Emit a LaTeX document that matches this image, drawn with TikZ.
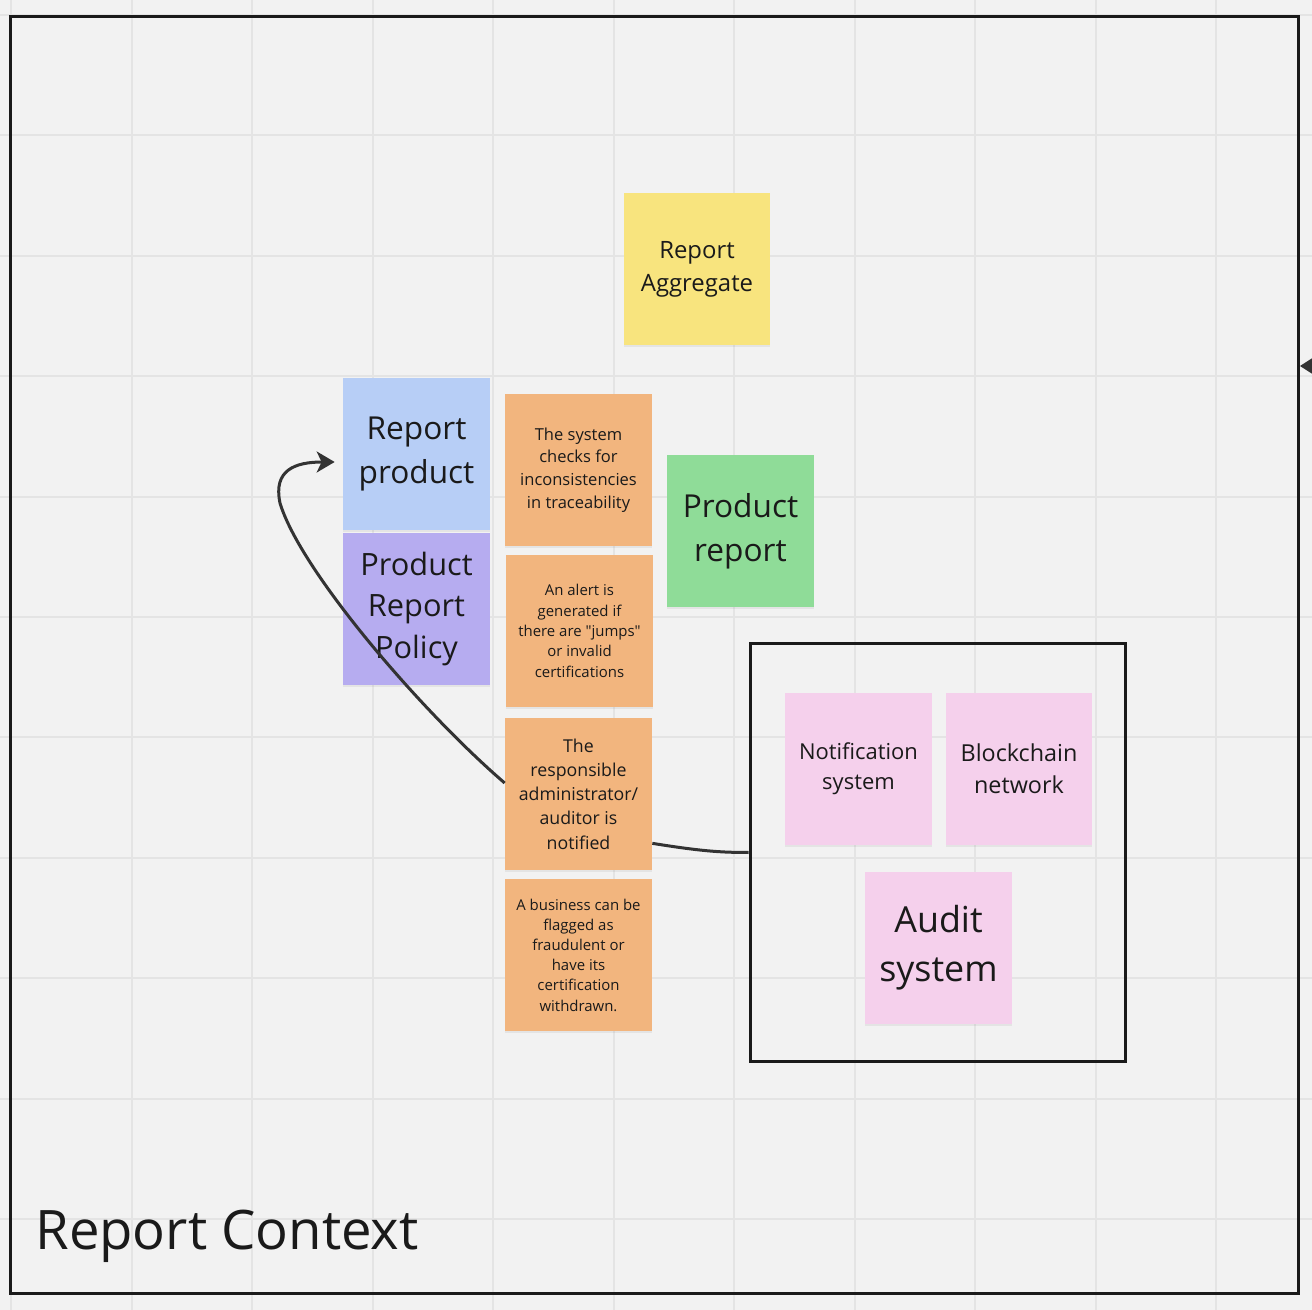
\documentclass[tikz,border=0pt]{standalone}
\usepackage{fontspec}
\setmainfont{Open Sans}[Ligatures=TeXOff]
\usetikzlibrary{arrows.meta,shadows}

\begin{document}
\begin{tikzpicture}[x=0.02cm,y=-0.02cm,
    note/.style={minimum width=2.94cm, minimum height=3.04cm, inner sep=0pt, align=center, text=inkcol,
      drop shadow={opacity=0.12, shadow xshift=0pt, shadow yshift=-0.05cm}},
    gridline/.style={draw=gridcol, line width=0.04cm},
    frameline/.style={draw=inkcol, line width=0.06cm, inner sep=0pt},
    link/.style={draw=linkcol, line width=0.06cm}]

% Changing color for the board
\definecolor{bgcol}{HTML}{F2F2F2}%
\definecolor{gridcol}{HTML}{E4E4E4}%
\definecolor{inkcol}{HTML}{1A1A1A}%
\definecolor{linkcol}{HTML}{333333}%
\useasboundingbox (0,0) rectangle (1312,1310);
\fill[bgcol] (0,0) rectangle (1312,1310);

% Drawing the grid
\foreach \i in {0,...,10} {
  \draw[gridline] ({11+120.5*\i},0) -- ++(0,1310);
  \draw[gridline] (0,{15+120.4*\i}) -- ++(1312,0);
}

% Drawing frame Report Context
\node[frameline, minimum width=25.78cm, minimum height=25.56cm] (frame) at (654.5,655) {};
\node[anchor=base west, inner sep=0pt, text=inkcol, font=\fontsize{31}{37}\selectfont] (title) at (35,1249) {Report Context};

% Changing color for the notes
\definecolor{yellowcol}{HTML}{F8E47E}%
\definecolor{bluecol}{HTML}{B7CEF6}%
\definecolor{purplecol}{HTML}{B6ACF0}%
\definecolor{orangecol}{HTML}{F2B57E}%
\definecolor{greencol}{HTML}{8FDC98}%
\definecolor{pinkcol}{HTML}{F5D0EC}%

% Marking note Report Aggregate
\node[note, fill=yellowcol, font=\fontsize{13.6}{18.7}\selectfont] (agg) at (697,269) {Report\\Aggregate};

% Marking notes of the command column
\node[note, fill=bluecol, font=\fontsize{18}{24.9}\selectfont] (repprod) at (416.5,454) {Report\\product};
\node[note, fill=purplecol, font=\fontsize{17.5}{23.8}\selectfont] (policy) at (416.5,609) {Product\\Report\\Policy};

% Marking notes of the event column
\node[note, fill=orangecol, font=\fontsize{9.4}{12.9}\selectfont] (checks) at (578.5,470) {The system\\checks for\\inconsistencies\\in traceability};
\node[note, fill=orangecol, font=\fontsize{8.5}{11.6}\selectfont] (alert) at (579.5,631) {An alert is\\generated if\\there are "jumps"\\or invalid\\certifications};
\node[note, fill=orangecol, font=\fontsize{10.1}{13.8}\selectfont] (notified) at (578.5,794) {The\\responsible\\administrator/\\auditor is\\notified};
\node[note, fill=orangecol, font=\fontsize{8.5}{11.5}\selectfont] (business) at (578.5,955) {A business can be\\flagged as\\fraudulent or\\have its\\certification\\withdrawn.};

% Marking note Product report
\node[note, fill=greencol, font=\fontsize{18}{24.9}\selectfont] (prodrep) at (740.5,531) {Product\\report};

% Drawing external systems box
\node[frameline, minimum width=7.52cm, minimum height=8.38cm] (auditbox) at (938,852.5) {};
\node[note, fill=pinkcol, font=\fontsize{12.5}{17}\selectfont] (notif) at (858.5,769) {Notification\\system};
\node[note, fill=pinkcol, font=\fontsize{13.3}{18.1}\selectfont] (chain) at (1019,769) {Blockchain\\network};
\node[note, fill=pinkcol, font=\fontsize{20.4}{27.8}\selectfont] (audit) at (938.5,948) {Audit\\system};

% Drawing links
\draw[link, -{Stealth[length=0.36cm, width=0.42cm, inset=0.1cm]}] ([yshift=0.22cm]notified.west)
  .. controls (420,710) and (300,570) .. (280,503)
  .. controls (273,470) and (295,462) .. ([xshift=-0.16cm, yshift=-0.16cm]repprod.west);
\draw[link] ([yshift=0.54cm]notified.south east) .. controls (700,851) and (720,852.5) .. (auditbox.west);

% Marking arrow tip at right edge
\coordinate (stub) at (1300,366);
\fill[linkcol] (stub) -- ++(14,-9) -- ++(0,18) -- cycle;
\end{tikzpicture}
\end{document}
